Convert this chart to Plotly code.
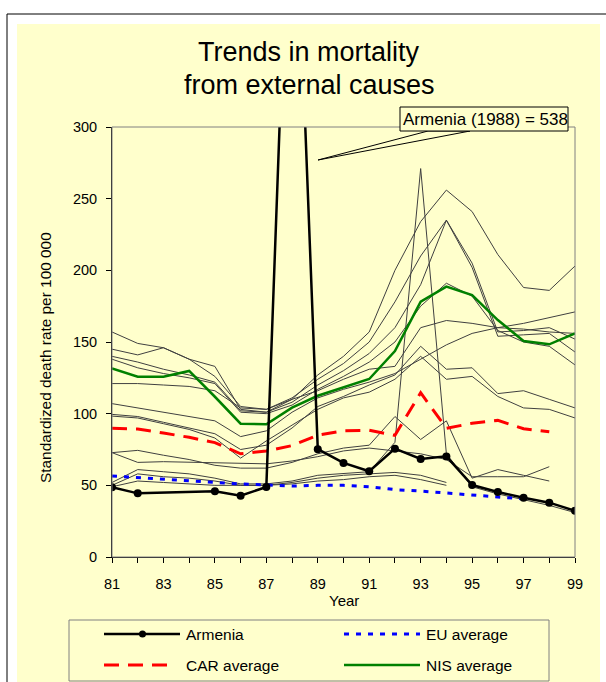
import plotly.graph_objects as go

years = list(range(81, 100))
tick_labels = [str(y) if y % 2 == 1 else "" for y in years]

armenia = [48.6, 44.4, None, None, 45.8, 42.8, 48.8, 538, 75.2, 65.6, 59.8, 75.6, 68.4, 70.2, 50.2, 45.3, 41.4, 37.9, 32.3]
eu_avg = [56.5, 55.3, 54, 53, 52, 51, 50, 49.5, 50, 50, 49, 47, 46, 44.5, 43, 42, 40.5, None, None]
car_avg = [89.8, 89.3, 86.5, 83.5, 79.8, 72, 74, 77.7, 85, 88, 88.4, 84.9, 114.6, 89.8, 93.3, 95.3, 89.5, 87.4, None]
nis_avg = [131.6, 125.8, 125.8, 129.8, 111.8, 93, 92.6, 104.2, 112.5, 118.4, 124.2, 143.7, 178.1, 188.6, 182.8, 165.3, 150.7, 148.4, 156]

country_1 = [157, 149, 146, 138, 133, 103, 101, 110, 127, 140, 157, 200, 234, 256, 241, 211, 188, 186, 203]
country_2 = [145, 141, 146, 138, 126, 105, 103, 111, 124, 135, 150, 178, 210, 235, 205, 157, 158, 160, 152]
country_3 = [140, 136, 131, 127, 122, 102, 101, 108, 120, 130, 142, 160, 190, 235, 202, 154, 155, 156, 143]
country_4 = [138, 132, 128, 125, 121, 101, 100, 106, 117, 126, 136, 150, 175, 191, 182, 158, 150, 147, 134]
country_5 = [121, 121, 120, 119, 116, 104, 103, 110, 116, 124, 131, 133, 160, 165, 163, 160, 159, 157, 156]
country_6 = [107, 104, 101, 98, 95, 84, 88, 101, 111, 117, 122, 128, 138, 148, 156, 160, 163, 167, 171]
country_7 = [99.5, 98, 94, 90, 86, 75, 78, 90, 105, 112, 120, 127, 147, 131, 132, 114, 116, 110, 104]
country_8 = [98.3, 97, 93, 89, 83, 69, 81, 92, 103, 111, 115, 124, 140, 124, 126, 112, 104, 103, 97]
country_9 = [72.8, 74.4, 71, 68, 64, 62, 62, 66, 72, 76, 78, 98, 82, 95, 55, 61, 57, 53, None]
country_10 = [72.8, 66, 66.5, 66, 65.5, 65, 65, 67, 70, 74, 76, 74, 72, 68, 56, 56, 56, 63, None]
country_11 = [52, 61, 59.5, 58, 55, 51, 51, 53, 57, 58, 59.5, 80, 271, 72, 49, 44, 40, 36, 31]
country_12 = [50, 58, 56, 55, 53, 50, 50, 52, 55, 57, 58, 59, 57, 52, None, None, None, None, None]
country_13 = [49, 53, 52, 51, 50, 50, 50, 51, 53, 54, 56, 57, 54, 50, None, None, None, None, None]
countries = [country_1, country_2, country_3, country_4, country_5, country_6, country_7,
             country_8, country_9, country_10, country_11, country_12, country_13]

FONT = "Liberation Sans, Arial, sans-serif"
YELLOW = "#FFFFCC"
W, H = 606, 682
L, R, T, B = 112, 575, 127, 557


def px(x):
    return (x - L) / (R - L)


def py(y):
    return (B - y) / (B - T)


fig = go.Figure()

for c in countries:
    fig.add_trace(go.Scatter(x=years, y=c, mode="lines", line=dict(color="#404040", width=1),
                             showlegend=False, hoverinfo="skip"))

fig.add_trace(go.Scatter(x=years, y=car_avg, mode="lines", name="CAR average",
                         line=dict(color="#FF0000", width=3, dash="15px,9px")))
fig.add_trace(go.Scatter(x=years, y=eu_avg, mode="lines", name="EU average",
                         line=dict(color="#0000FF", width=3, dash="5px,7px")))
fig.add_trace(go.Scatter(x=years, y=nis_avg, mode="lines", name="NIS average",
                         line=dict(color="#008000", width=2.5)))
fig.add_trace(go.Scatter(x=years, y=armenia, mode="lines+markers", name="Armenia", connectgaps=True,
                         line=dict(color="#000000", width=2.5),
                         marker=dict(color="#000000", size=8), cliponaxis=True))

shapes = []
# outer frame and yellow panel
shapes.append(dict(type="rect", xref="paper", yref="paper", x0=px(7), x1=px(640), y0=py(14), y1=py(720),
                   line=dict(color="#000000", width=1), fillcolor="white", layer="below"))
shapes.append(dict(type="rect", xref="paper", yref="paper", x0=px(17), x1=px(600), y0=py(24), y1=py(720),
                   line=dict(width=0), fillcolor=YELLOW, layer="below"))
# plot border (gray)
shapes.append(dict(type="rect", xref="paper", yref="paper", x0=0, x1=1, y0=0, y1=1,
                   line=dict(color="#808080", width=1)))
# callout wedge and box
shapes.append(dict(type="path", xref="paper", yref="paper",
                   path=f"M {px(428)} {py(131)} L {px(318)} {py(160)} L {px(470)} {py(131)} Z",
                   fillcolor=YELLOW, line=dict(color="#000000", width=1)))
shapes.append(dict(type="rect", xref="paper", yref="paper", x0=px(400), x1=px(568), y0=py(107), y1=py(131),
                   fillcolor=YELLOW, line=dict(color="#000000", width=1)))
# legend box
shapes.append(dict(type="rect", xref="paper", yref="paper", x0=px(69), x1=px(549), y0=py(620), y1=py(681),
                   line=dict(color="#808080", width=1), fillcolor=YELLOW))
# legend samples
r1, r2 = 634, 665
shapes.append(dict(type="line", xref="paper", yref="paper", x0=px(104), x1=px(180), y0=py(r1), y1=py(r1),
                   line=dict(color="#000000", width=2.5)))
shapes.append(dict(type="circle", xref="paper", yref="paper", x0=px(139), x1=px(146), y0=py(r1 - 3.5), y1=py(r1 + 3.5),
                   fillcolor="#000000", line=dict(color="#000000", width=0)))
shapes.append(dict(type="line", xref="paper", yref="paper", x0=px(104), x1=px(176), y0=py(r2), y1=py(r2),
                   line=dict(color="#FF0000", width=3, dash="15px,9px")))
shapes.append(dict(type="line", xref="paper", yref="paper", x0=px(344), x1=px(420), y0=py(r1), y1=py(r1),
                   line=dict(color="#0000FF", width=3, dash="5px,7px")))
shapes.append(dict(type="line", xref="paper", yref="paper", x0=px(344), x1=px(420), y0=py(r2), y1=py(r2),
                   line=dict(color="#008000", width=2.5)))

annotations = [
    dict(text="Trends in mortality", x=px(309), y=py(52), xref="paper", yref="paper", showarrow=False,
         font=dict(family=FONT, size=27, color="#000000"), xanchor="center", yanchor="middle"),
    dict(text="from external causes", x=px(309), y=py(85), xref="paper", yref="paper", showarrow=False,
         font=dict(family=FONT, size=27, color="#000000"), xanchor="center", yanchor="middle"),
    dict(text="Armenia (1988) = 538", x=px(401), y=py(119), xref="paper", yref="paper", showarrow=False,
         font=dict(family=FONT, size=17, color="#000000"), xanchor="left", yanchor="middle"),
    dict(text="Armenia", x=px(184), y=py(r1), xref="paper", yref="paper", showarrow=False,
         font=dict(family=FONT, size=15.5, color="#000000"), xanchor="left", yanchor="middle"),
    dict(text="CAR average", x=px(184), y=py(r2), xref="paper", yref="paper", showarrow=False,
         font=dict(family=FONT, size=15.5, color="#000000"), xanchor="left", yanchor="middle"),
    dict(text="EU average", x=px(424), y=py(r1), xref="paper", yref="paper", showarrow=False,
         font=dict(family=FONT, size=15.5, color="#000000"), xanchor="left", yanchor="middle"),
    dict(text="NIS average", x=px(424), y=py(r2), xref="paper", yref="paper", showarrow=False,
         font=dict(family=FONT, size=15.5, color="#000000"), xanchor="left", yanchor="middle"),
    dict(text="Year", x=px(344), y=py(600), xref="paper", yref="paper", showarrow=False,
         font=dict(family=FONT, size=15, color="#000000"), xanchor="center", yanchor="middle"),
    dict(text="Standardized death rate per 100 000", x=px(45), y=py(358), xref="paper", yref="paper",
         showarrow=False, textangle=-90,
         font=dict(family=FONT, size=15.4, color="#000000"), xanchor="center", yanchor="middle"),
]

fig.update_layout(
    width=W, height=H,
    margin=dict(l=L, r=W - R, t=T, b=H - B, pad=0),
    paper_bgcolor="white", plot_bgcolor=YELLOW,
    showlegend=False,
    shapes=shapes, annotations=annotations,
    font=dict(family=FONT, size=14, color="#000000"),
)
fig.update_xaxes(range=[81, 99], tickvals=years, ticktext=tick_labels, ticks="outside", ticklen=5,
                 tickcolor="#000000", showline=True, linecolor="#000000", linewidth=1, showgrid=False,
                 zeroline=False, tickfont=dict(family=FONT, size=14.5), ticklabelstandoff=9)
fig.update_yaxes(range=[0, 300], tickvals=[0, 50, 100, 150, 200, 250, 300], ticks="outside", ticklen=5,
                 tickcolor="#000000", showline=True, linecolor="#000000", linewidth=1, showgrid=False,
                 zeroline=False, tickfont=dict(family=FONT, size=14.5), ticklabelstandoff=6)

fig.write_html("out.html", config={"displayModeBar": False},
               post_script="document.body.style.margin='0px';")
